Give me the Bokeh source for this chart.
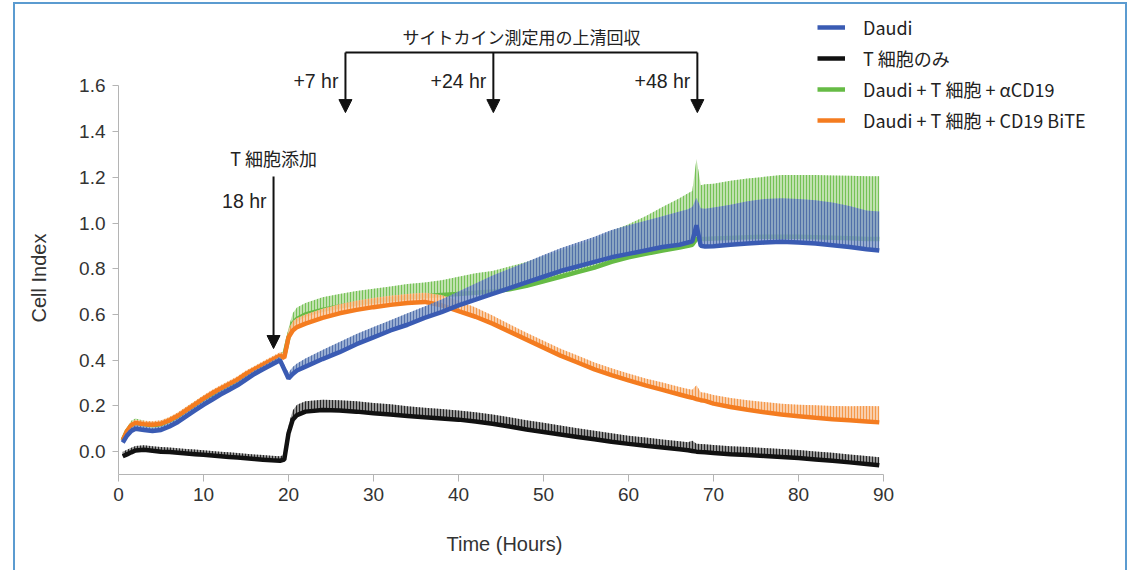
import math
from bokeh.plotting import figure
from bokeh.models import (Range1d, FixedTicker, PrintfTickFormatter, Label, Arrow,
                          NormalHead, Legend, LegendItem, Title)
from bokeh.embed import file_html
from bokeh.resources import INLINE

# ---------------- data ----------------
hours = [0.5, 1, 1.5, 2, 3, 4, 5, 6, 7, 8, 9, 10, 11, 12, 13, 14, 15, 16, 17, 18, 19,
         19.5, 20, 20.5, 21, 22, 24, 26, 28, 30, 32, 34, 36, 38, 40, 42, 44, 46, 48, 50,
         52, 54, 56, 58, 60, 62, 64, 66, 67, 67.5, 68, 68.5, 69, 70, 72, 74, 76, 78, 80,
         82, 84, 86, 88, 89.5]

daudi = [0.04, 0.07, 0.09, 0.10, 0.095, 0.09, 0.095, 0.11, 0.13, 0.155, 0.18, 0.205, 0.227,
         0.25, 0.27, 0.29, 0.315, 0.34, 0.36, 0.38, 0.40,
         0.36, 0.32, 0.34, 0.355, 0.372, 0.405, 0.435, 0.47, 0.50, 0.53, 0.555, 0.585, 0.61,
         0.64, 0.665, 0.69, 0.715, 0.74, 0.765, 0.79, 0.81, 0.83, 0.85, 0.865, 0.88, 0.895,
         0.905, 0.915, 0.92, 0.99, 0.90, 0.897, 0.898, 0.905, 0.91, 0.915, 0.918, 0.915, 0.91,
         0.903, 0.895, 0.885, 0.88]
daudi_err = [0.015] * 21 + [0.02, 0.025, 0.03, 0.03, 0.035, 0.04, 0.045, 0.045, 0.045, 0.045,
                            0.05, 0.05, 0.055, 0.06, 0.07, 0.08, 0.085, 0.09, 0.095, 0.10,
                            0.105, 0.11, 0.12, 0.125, 0.13, 0.135, 0.145, 0.145, 0.15, 0.12,
                            0.165, 0.165, 0.17, 0.175, 0.185, 0.19, 0.19, 0.19, 0.19, 0.187,
                            0.18, 0.17, 0.17]

tcell = [-0.02, -0.012, -0.003, 0.005, 0.008, 0.004, 0.0, -0.002, -0.005, -0.008, -0.011,
         -0.014, -0.017, -0.02, -0.023, -0.026, -0.029, -0.032, -0.035, -0.038, -0.04,
         -0.035, 0.08, 0.14, 0.16, 0.175, 0.182, 0.18, 0.175, 0.168, 0.162, 0.156, 0.15, 0.145,
         0.14, 0.132, 0.122, 0.11, 0.097, 0.086, 0.075, 0.064, 0.054, 0.043, 0.034, 0.026,
         0.018, 0.01, 0.006, 0.003, 0.0, -0.002, -0.003, -0.006, -0.011, -0.015, -0.019,
         -0.023, -0.028, -0.034, -0.04, -0.047, -0.054, -0.06]
tcell_err = [0.02] * 21 + [0.02, 0.035, 0.04, 0.045, 0.045, 0.045, 0.045, 0.045, 0.045, 0.045,
                           0.043, 0.042, 0.041, 0.04, 0.04, 0.04, 0.04, 0.04, 0.04,
                           0.039, 0.038, 0.037, 0.037, 0.036, 0.036, 0.035, 0.035, 0.035, 0.045,
                           0.035, 0.035, 0.035, 0.035, 0.035, 0.035, 0.035, 0.035, 0.035,
                           0.035, 0.035, 0.035, 0.035, 0.035]

acd19 = [0.05, 0.09, 0.115, 0.125, 0.12, 0.115, 0.12, 0.135, 0.155, 0.18, 0.205, 0.23, 0.25,
         0.27, 0.29, 0.31, 0.335, 0.355, 0.375, 0.395, 0.415,
         0.42, 0.50, 0.56, 0.58, 0.60, 0.62, 0.635, 0.648, 0.658, 0.667, 0.675, 0.68, 0.685,
         0.69, 0.695, 0.70, 0.71, 0.725, 0.745, 0.765, 0.785, 0.805, 0.83, 0.85, 0.865, 0.88,
         0.893, 0.90, 0.905, 0.93, 0.93, 0.93, 0.932, 0.935, 0.938, 0.94, 0.94, 0.94, 0.938,
         0.936, 0.933, 0.93, 0.93]
acd19_err = [0.015, 0.015, 0.02, 0.02] + [0.015] * 17 + [
    0.02, 0.04, 0.045, 0.05, 0.05, 0.055, 0.055, 0.055, 0.055, 0.055, 0.058, 0.06, 0.065,
    0.075, 0.085, 0.09, 0.10, 0.105, 0.11, 0.115, 0.12, 0.125, 0.135, 0.145, 0.165, 0.19,
    0.215, 0.23, 0.235, 0.35, 0.235, 0.24, 0.24, 0.25, 0.257, 0.262, 0.27, 0.27, 0.272,
    0.272, 0.274, 0.275, 0.275]

bite = [0.05, 0.09, 0.115, 0.125, 0.12, 0.118, 0.122, 0.137, 0.157, 0.182, 0.207, 0.232,
        0.255, 0.275, 0.295, 0.315, 0.34, 0.36, 0.38, 0.40, 0.42,
        0.41, 0.50, 0.53, 0.545, 0.56, 0.585, 0.605, 0.62, 0.632, 0.642, 0.65, 0.655, 0.64,
        0.615, 0.59, 0.56, 0.525, 0.49, 0.455, 0.42, 0.39, 0.36, 0.335, 0.312, 0.29, 0.27,
        0.25, 0.24, 0.236, 0.23, 0.225, 0.222, 0.21, 0.195, 0.183, 0.172, 0.162, 0.155,
        0.148, 0.142, 0.137, 0.132, 0.128]
bite_err = [0.015] * 21 + [0.02, 0.035, 0.04, 0.04, 0.04, 0.04, 0.04, 0.04, 0.04, 0.04,
                           0.04, 0.04, 0.045, 0.045, 0.04, 0.035, 0.032, 0.03, 0.03, 0.03,
                           0.03, 0.03, 0.03, 0.03, 0.03, 0.032, 0.033, 0.034, 0.035, 0.06,
                           0.035, 0.036, 0.038, 0.04, 0.042, 0.045, 0.048, 0.05, 0.055,
                           0.058, 0.062, 0.068, 0.07]

series_labels = ["Daudi", "T 細胞のみ", "Daudi + T 細胞 + αCD19", "Daudi + T 細胞 + CD19 BiTE"]

x_ticks = [0, 10, 20, 30, 40, 50, 60, 70, 80, 90]
y_ticks = [0.0, 0.2, 0.4, 0.6, 0.8, 1.0, 1.2, 1.4, 1.6]
x_title = "Time (Hours)"
y_title = "Cell Index"

# annotations
collection_title = "サイトカイン測定用の上清回収"
collection_times = [26.7, 44.1, 68.1]
collection_labels = ["+7 hr", "+24 hr", "+48 hr"]
tcell_add_time = 18.24
tcell_add_title = "T 細胞添加"
tcell_add_label = "18 hr"

# ---------------- figure ----------------
JP = "Noto Sans CJK JP"
LAT = "Liberation Sans"
EDGE = "#5b9bd0"

p = figure(width=1129, height=570, x_range=Range1d(0, 118.94), y_range=Range1d(-0.1, 1.9296),
           output_backend="svg", toolbar_location=None,
           min_border_left=118, min_border_right=0, min_border_top=10, min_border_bottom=96)
p.styles = {"box-shadow": (f"inset 13px 0 0 0 #ffffff, inset -2px 0 0 0 #ffffff, "
                           f"inset 0 2px 0 0 #ffffff, inset 15px 0 0 0 {EDGE}, "
                           f"inset -4px 0 0 0 {EDGE}, inset 0 4px 0 0 {EDGE}")}
p.grid.visible = False
p.outline_line_color = None
p.background_fill_color = None
p.border_fill_color = None

xa = p.xaxis[0]
xa.ticker = FixedTicker(ticks=x_ticks)
xa.bounds = (0, 90)
ya = p.yaxis[0]
ya.ticker = FixedTicker(ticks=y_ticks)
ya.bounds = (-0.1, 1.6)
ya.formatter = PrintfTickFormatter(format="%.1f")
for ax in (xa, ya):
    ax.axis_line_color = "#b4b4b4"
    ax.axis_line_width = 1
    ax.major_tick_line_color = "#b4b4b4"
    ax.major_tick_in = 0
    ax.minor_tick_line_color = None
    ax.major_label_text_font = LAT
    ax.major_label_text_font_size = "19px"
    ax.major_label_text_color = "#333333"
xa.major_tick_out = 7
xa.major_label_standoff = 6
ya.major_tick_out = 6
ya.major_label_standoff = 7

# axis titles as panel titles (spacer first, then the title, offset along the axis)
for side, text, off in (("left", y_title, 152), ("below", x_title, 328)):
    p.add_layout(Title(text=" ", text_font_size="8px", standoff=11), side)
    p.add_layout(Title(text=text, align="left", offset=off, text_font=LAT,
                       text_font_size="20px", text_font_style="normal", text_color="#333333",
                       standoff=10), side)

# ---------------- bands (error bars) + lines ----------------
def upper(vals, errs):
    return [v + e for v, e in zip(vals, errs)]

styles = {
    "green": dict(line="#66bb45", fill="#b9dea6", hatch="#6dbf4c"),
    "orange": dict(line="#f47c20", fill="#f8c9a2", hatch="#f5943f"),
    "blue": dict(line="#3a5bb3", fill="#7d97c6", hatch="#4c6aa9"),
    "black": dict(line="#111111", fill="#8a8a8a", hatch="#1a1a1a"),
}

def band(vals, errs, st, alpha):
    p.varea(x=hours, y1=vals, y2=upper(vals, errs), fill_color=st["fill"], fill_alpha=alpha,
            hatch_pattern="vertical_line", hatch_color=st["hatch"], hatch_scale=3,
            hatch_weight=1, hatch_alpha=0.9)

LW = 4.5
band(acd19, acd19_err, styles["green"], 0.9)
g_line = p.line(hours, acd19, line_color=styles["green"]["line"], line_width=LW)
band(bite, bite_err, styles["orange"], 0.9)
o_line = p.line(hours, bite, line_color=styles["orange"]["line"], line_width=LW)
band(daudi, daudi_err, styles["blue"], 0.8)
b_line = p.line(hours, daudi, line_color=styles["blue"]["line"], line_width=LW)
band(tcell, tcell_err, styles["black"], 0.9)
k_line = p.line(hours, tcell, line_color=styles["black"]["line"], line_width=LW)

# legend markers (glyph only)
b_dot = p.scatter(x=[], y=[], size=7, color=styles["blue"]["line"])
k_dot = p.scatter(x=[], y=[], size=7, color=styles["black"]["line"])
g_dot = p.scatter(x=[], y=[], size=7, color=styles["green"]["line"])
o_dot = p.scatter(x=[], y=[], size=7, color=styles["orange"]["line"])

legend = Legend(items=[
    LegendItem(label=series_labels[0], renderers=[b_line, b_dot]),
    LegendItem(label=series_labels[1], renderers=[k_line, k_dot]),
    LegendItem(label=series_labels[2], renderers=[g_line, g_dot]),
    LegendItem(label=series_labels[3], renderers=[o_line, o_dot]),
], location=(695, 337))
legend.label_text_font = JP
legend.label_text_font_size = "18px"
legend.label_text_color = "#222222"
legend.glyph_width = 28
legend.glyph_height = 20
legend.label_height = 20
legend.spacing = 5
legend.label_standoff = 18
legend.padding = 4
legend.margin = 0
legend.border_line_alpha = 0
legend.background_fill_alpha = 0
p.add_layout(legend)

# ---------------- annotations ----------------
bracket_y = 1.746
tip_y = 1.483
p.segment(x0=[collection_times[0]], y0=[bracket_y], x1=[collection_times[-1]], y1=[bracket_y],
          line_color="#111111", line_width=2)
for t, lab in zip(collection_times, collection_labels):
    p.add_layout(Arrow(x_start=t, y_start=bracket_y, x_end=t, y_end=tip_y,
                       line_color="#111111", line_width=2,
                       end=NormalHead(size=13, fill_color="#111111", line_color="#111111")))
    p.add_layout(Label(x=t, y=1.623, text=lab, text_align="right", text_baseline="middle",
                       x_offset=-7, text_font=LAT, text_font_size="19.5px",
                       text_color="#222222"))

p.add_layout(Label(x=(collection_times[0] + collection_times[-1]) / 2, y=1.816,
                   text=collection_title, text_align="center", text_baseline="middle",
                   text_font=JP, text_font_size="17px", text_color="#222222"))

p.add_layout(Arrow(x_start=tcell_add_time, y_start=1.203, x_end=tcell_add_time, y_end=0.451,
                   line_color="#111111", line_width=2,
                   end=NormalHead(size=13, fill_color="#111111", line_color="#111111")))
p.add_layout(Label(x=tcell_add_time, y=1.286, text=tcell_add_title, text_align="center",
                   text_baseline="middle", text_font=JP, text_font_size="18px",
                   text_color="#222222"))
p.add_layout(Label(x=tcell_add_time, y=1.098, text=tcell_add_label, text_align="right",
                   text_baseline="middle", x_offset=-7, text_font=LAT, text_font_size="19.5px",
                   text_color="#222222"))

open("out.html", "w").write(file_html(p, INLINE))
